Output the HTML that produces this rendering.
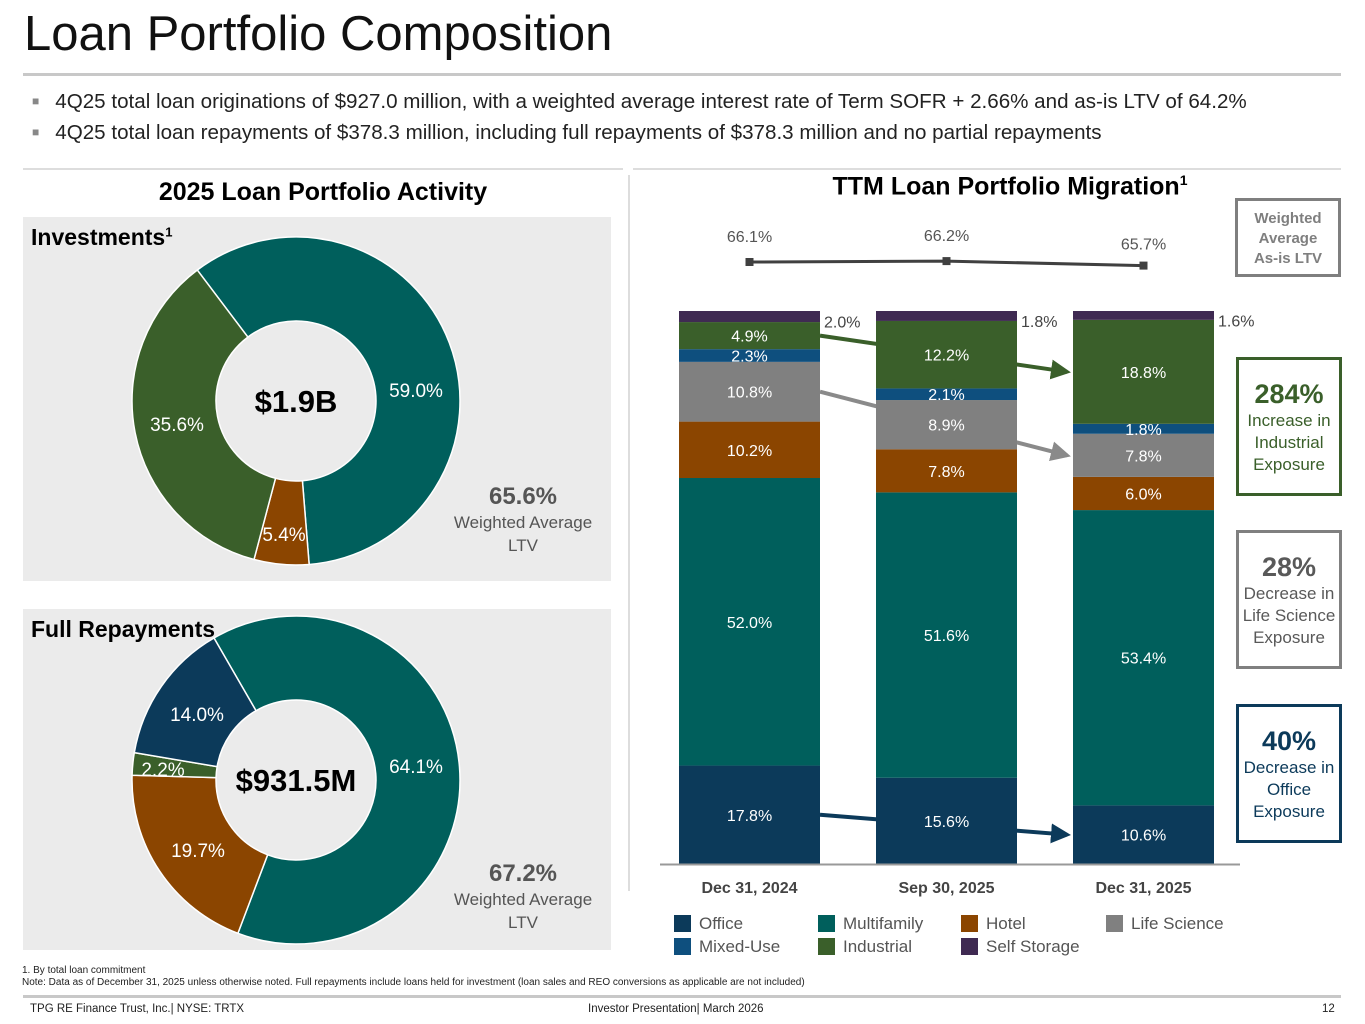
<!DOCTYPE html>
<html><head><meta charset="utf-8"><style>
body{margin:0;width:1365px;height:1024px;background:#fff;font-family:"Liberation Sans",sans-serif;position:relative;overflow:hidden;color:#000}
.a{position:absolute}
.hl{position:absolute;background:#c8c8c8}
.box{position:absolute;background:#fff;text-align:center;box-sizing:border-box}
</style></head><body>
<div class="a" style="left:24px;top:6px;font-size:49px;color:#111">Loan Portfolio Composition</div>
<div class="hl" style="left:23px;top:73px;width:1318px;height:3px"></div>
<div class="a" style="left:32px;top:90px;font-size:20.6px;color:#222;white-space:nowrap"><span style="color:#888;font-size:12px;margin-right:16px;vertical-align:3px">■</span>4Q25 total loan originations of $927.0 million, with a weighted average interest rate of Term SOFR + 2.66% and as-is LTV of 64.2%</div>
<div class="a" style="left:32px;top:121px;font-size:20.6px;color:#222;white-space:nowrap"><span style="color:#888;font-size:12px;margin-right:16px;vertical-align:3px">■</span>4Q25 total loan repayments of $378.3 million, including full repayments of $378.3 million and no partial repayments</div>
<div class="hl" style="left:23px;top:168px;width:600px;height:2px;background:#ddd"></div>
<div class="hl" style="left:633px;top:168px;width:708px;height:2px;background:#ddd"></div>
<div class="hl" style="left:628px;top:175px;width:2px;height:716px;background:#ddd"></div>
<div class="a" style="left:23px;width:600px;top:178px;text-align:center;font-size:25px;font-weight:bold">2025 Loan Portfolio Activity</div>
<div class="a" style="left:760px;width:500px;top:172px;text-align:center;font-size:25px;font-weight:bold">TTM Loan Portfolio Migration<sup style="font-size:14px">1</sup></div>

<div class="a" style="left:23px;top:217px;width:588px;height:364px;background:#ebebeb"></div>
<div class="a" style="left:23px;top:609px;width:588px;height:341px;background:#ebebeb"></div>
<div class="a" style="left:31px;top:224px;font-size:23px;font-weight:bold">Investments<sup style="font-size:13px">1</sup></div>
<div class="a" style="left:31px;top:616px;font-size:23px;font-weight:bold">Full Repayments</div>
<div class="a" style="left:452px;width:142px;top:483px;text-align:center;color:#555"><div style="font-size:24px;font-weight:bold">65.6%</div><div style="font-size:17px;line-height:23px">Weighted Average<br>LTV</div></div>
<div class="a" style="left:452px;width:142px;top:860px;text-align:center;color:#555"><div style="font-size:24px;font-weight:bold">67.2%</div><div style="font-size:17px;line-height:23px">Weighted Average<br>LTV</div></div>

<svg class="a" style="left:0;top:0" width="1365" height="1024" id="svg"></svg>

<div class="box" style="left:1235px;top:198px;width:106px;height:79px;border:3px solid #7f7f7f;color:#7f7f7f;font-size:15px;font-weight:bold;line-height:20px;padding-top:8px">Weighted<br>Average<br>As-is LTV</div>
<div class="box" style="left:1236px;top:357px;width:106px;height:139px;border:3px solid #3a5f2a;color:#3a5f2a;font-size:17px;line-height:22px;padding-top:18px"><div style="font-size:27px;font-weight:bold;line-height:32px">284%</div>Increase in<br>Industrial<br>Exposure</div>
<div class="box" style="left:1236px;top:530px;width:106px;height:139px;border:3px solid #808080;color:#595959;font-size:17px;line-height:22px;padding-top:18px"><div style="font-size:27px;font-weight:bold;line-height:32px">28%</div>Decrease in<br>Life Science<br>Exposure</div>
<div class="box" style="left:1236px;top:704px;width:106px;height:139px;border:3px solid #0c3a5a;color:#0c3a5a;font-size:17px;line-height:22px;padding-top:18px"><div style="font-size:27px;font-weight:bold;line-height:32px">40%</div>Decrease in<br>Office<br>Exposure</div>

<div class="a" style="left:22px;top:965px;font-size:10px;line-height:12px;color:#222">1. By total loan commitment<br>Note: Data as of December 31, 2025 unless otherwise noted. Full repayments include loans held for investment (loan sales and REO conversions as applicable are not included)</div>
<div class="hl" style="left:23px;top:995px;width:1318px;height:3px"></div>
<div class="a" style="left:30px;top:1003px;font-size:11.5px;color:#222">TPG RE Finance Trust, Inc.| NYSE: TRTX</div>
<div class="a" style="left:588px;top:1003px;font-size:11.5px;color:#222">Investor Presentation| March 2026</div>
<div class="a" style="left:1322px;top:1003px;font-size:11.5px;color:#222">12</div>

<script>
const categories=["Dec 31, 2024","Sep 30, 2025","Dec 31, 2025"];
const seriesNames=["Office","Multifamily","Hotel","Life Science","Mixed-Use","Industrial","Self Storage"];
const office=[17.8,15.6,10.6];
const multifamily=[52.0,51.6,53.4];
const hotel=[10.2,7.8,6.0];
const lifeScience=[10.8,8.9,7.8];
const mixedUse=[2.3,2.1,1.8];
const industrial=[4.9,12.2,18.8];
const selfStorage=[2.0,1.8,1.6];
const ltv=[66.1,66.2,65.7];
const invNames=["Multifamily","Hotel","Industrial"];
const invValues=[59.0,5.4,35.6];
const repNames=["Multifamily","Hotel","Industrial","Office"];
const repValues=[64.1,19.7,2.2,14.0];

const colors={"Office":"#0c3a5a","Multifamily":"#005f5c","Hotel":"#8b4500","Life Science":"#808080","Mixed-Use":"#0e4f7e","Industrial":"#3a5f2a","Self Storage":"#3f2a52"};
const svg=document.getElementById('svg');
const NS="http://www.w3.org/2000/svg";
function mk(t,a,p){const e=document.createElementNS(NS,t);for(const k in a)e.setAttribute(k,a[k]);(p||svg).appendChild(e);return e;}
function txt(x,y,s,size,fill,anchor,weight){const e=mk('text',{x:x,y:y,'font-size':size,fill:fill,'text-anchor':anchor||'middle','font-family':'Liberation Sans, sans-serif','font-weight':weight||'normal'});e.textContent=s;return e;}

const barBottom=864, barH=553, barW=141;
const bx=i=>679+i*197;
const yv=v=>barBottom-v/100*barH;
const ly=v=>262-(v-66.1)*9;

const defs=mk('defs',{});
[['ag','#3a5f2a'],['ay','#8a8a8a'],['an','#0c3a5a']].forEach(([id,c])=>{const m=mk('marker',{id:id,markerWidth:5,markerHeight:5,refX:4,refY:2.5,orient:'auto',markerUnits:'strokeWidth'},defs);mk('path',{d:'M0,0L5,2.5L0,5z',fill:c},m);});
const stack=[office,multifamily,hotel,lifeScience,mixedUse,industrial,selfStorage];
function segMid(s,i){let b=0;for(let k=0;k<s;k++)b+=stack[k][i];return yv(b+stack[s][i]/2);}
function arrow(series,i0,c,id,name){
  const a=mk('line',{x1:bx(i0)+barW,y1:segMid(series,i0),x2:bx(2)-6,y2:segMid(series,2),stroke:c,'stroke-width':4,'marker-end':'url(#'+id+')'});
  
  
}
arrow(5,0,'#3a5f2a','ag','industrial-arrow');
arrow(3,0,'#8a8a8a','ay','life-science-arrow');
arrow(0,0,'#0c3a5a','an','office-arrow');

categories.forEach((c,i)=>{
  let base=0;
  stack.forEach((s,k)=>{
    const v=s[i];
    const r=mk('rect',{x:bx(i),y:yv(base+v),width:barW,height:yv(base)-yv(base+v),fill:colors[seriesNames[k]]});
    
    
    if(k<6){txt(bx(i)+barW/2,yv(base+v/2)+6,v.toFixed(1)+'%',16,'#fff');}
    else{txt(bx(i)+barW+4,yv(base+v/2)+11,v.toFixed(1)+'%',16,'#444','start');}
    base+=v;
  });
  const l=txt(bx(i)+barW/2,893,c,16,'#444','middle','bold');
  
  
});
const ax=mk('line',{x1:660,y1:barBottom+0.5,x2:1240,y2:barBottom+0.5,stroke:'#999','stroke-width':2});



let pts=ltv.map((v,i)=>(bx(i)+barW/2)+','+ly(v)).join(' ');
const pl=mk('polyline',{points:pts,fill:'none',stroke:'#404040','stroke-width':3});


ltv.forEach((v,i)=>{
  const m=mk('rect',{x:bx(i)+barW/2-4,y:ly(v)-4,width:8,height:8,fill:'#404040'});
  
  
  txt(bx(i)+barW/2,ly(v)-20-(i==2?-4:0),v.toFixed(1)+'%',16,'#555');
});

const legendPos=[[674,923],[818,923],[961,923],[1106,923],[674,946],[818,946],[961,946]];
const legOrder=["Office","Multifamily","Hotel","Life Science","Mixed-Use","Industrial","Self Storage"];
legOrder.forEach((n,i)=>{
  const [x,y]=legendPos[i];
  const r=mk('rect',{x:x,y:y-8,width:17,height:17,fill:colors[n]});
  
  
  txt(x+25,y+6,n,17,'#555','start');
});

function donut(cx,cy,ro,ri,names,vals,start,labels,center,nm){
  let a=start;
  vals.forEach((v,i)=>{
    const a2=a+v/100*360;
    const p=(ang,r)=>{const t=(ang-90)*Math.PI/180;return [cx+r*Math.cos(t),cy+r*Math.sin(t)];};
    const [x1,y1]=p(a,ro),[x2,y2]=p(a2,ro),[x3,y3]=p(a2,ri),[x4,y4]=p(a,ri);
    const lg=(a2-a)>180?1:0;
    const s=mk('path',{d:`M${x1},${y1}A${ro},${ro} 0 ${lg} 1 ${x2},${y2}L${x3},${y3}A${ri},${ri} 0 ${lg} 0 ${x4},${y4}Z`,fill:colors[names[i]],stroke:'#fff','stroke-width':1.5});
    
    
    const [lx,ly2]=labels[i];
    txt(lx,ly2,v.toFixed(1)+'%',19,'#fff');
    a=a2;
  });
  const c=txt(cx,cy+11,center,31,'#000','middle','bold');
  
  
}
donut(296,401,164,80,invNames,invValues,-37,[[416,397],[284,541],[177,431]],'$1.9B','investments');
donut(296,780,164,80,repNames,repValues,-30,[[416,773],[198,857],[163,776],[197,721]],'$931.5M','repayments');
</script>
</body></html>
